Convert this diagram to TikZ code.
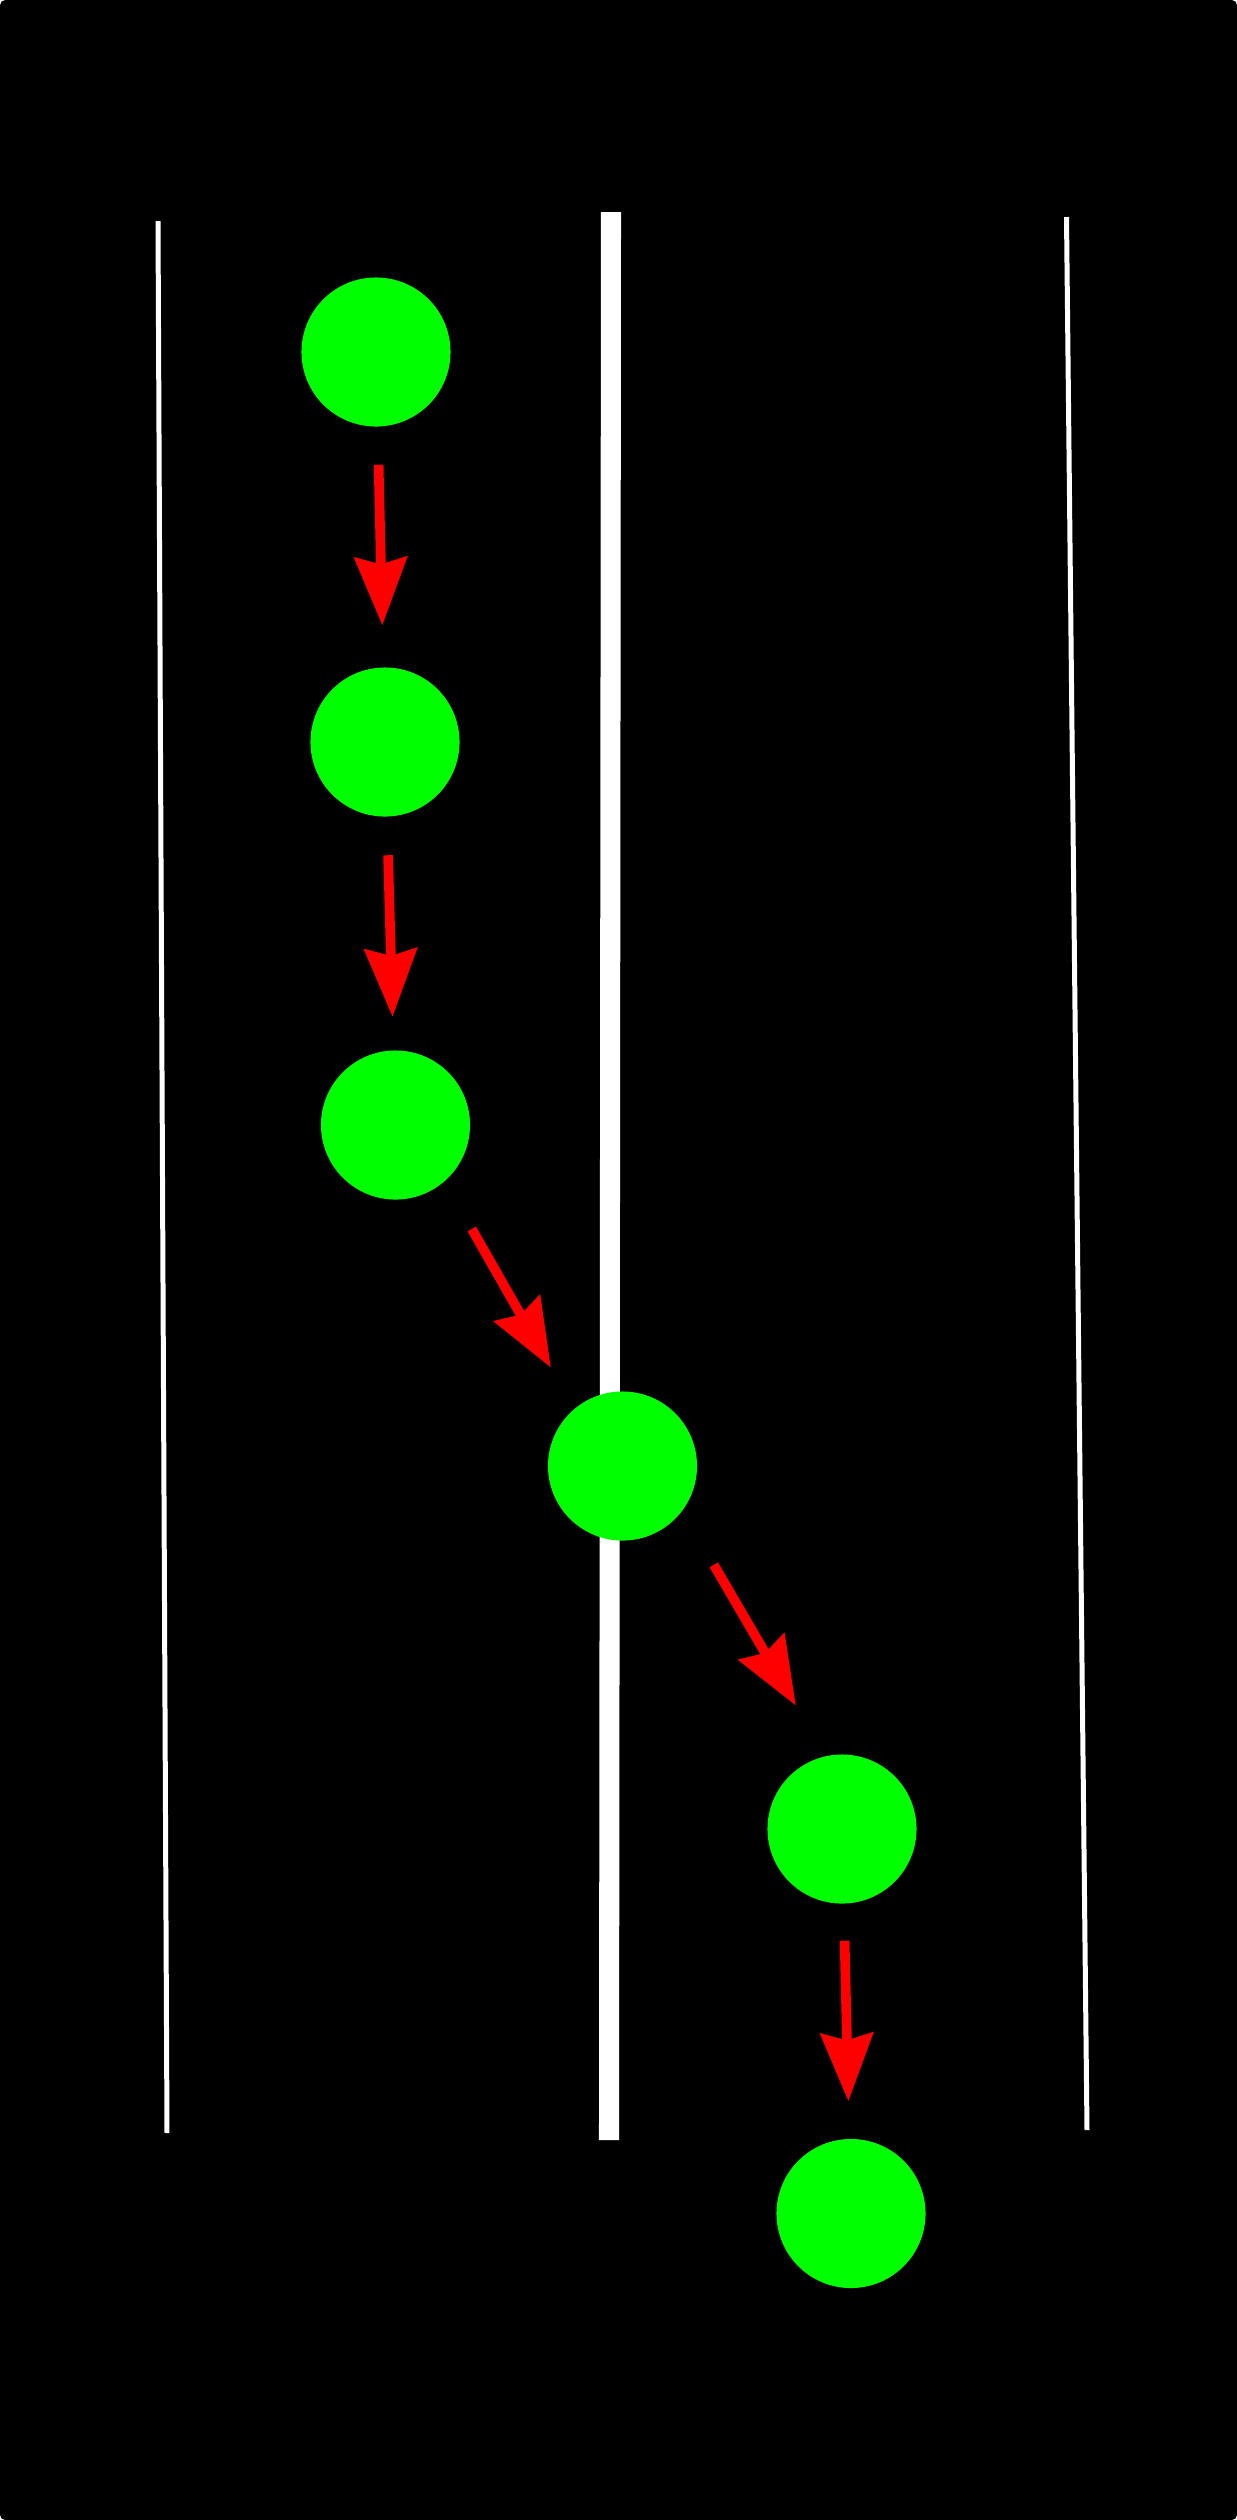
\documentclass[tikz,border=0pt]{standalone}
\usetikzlibrary{arrows.meta}
\definecolor{ballgreen}{RGB}{0,255,0}
\definecolor{flowred}{RGB}{255,0,0}
\begin{document}
\begin{tikzpicture}[x=0.01cm,y=-0.01cm,
    ball/.style={circle,fill=ballgreen,inner sep=0,minimum size=1.49cm},
    flow/.style={flowred,line width=2.75pt,-{Stealth[length=19.3pt,width=14.8pt,inset=2pt]}},
    thinrail/.style={white,line width=1.42pt},
    thickrail/.style={white,line width=5.7pt}]
    % background card
    \fill[white] (0,0) rectangle (1237,2520);
    \fill[black,rounded corners=1.5pt] (0,0) rectangle (1237,2520);
    % rails
    \draw[thinrail] (158,221) -- (167,2133);
    \draw[thickrail] (611,212) -- (609,2140);
    \draw[thinrail] (1066.5,217) -- (1087,2130);
    % balls
    \node[ball] (c1) at (376,352) {};
    \node[ball] (c2) at (385,742) {};
    \node[ball] (c3) at (395.5,1125) {};
    \node[ball] (c4) at (622.5,1466) {};
    \node[ball] (c5) at (842,1829) {};
    \node[ball] (c6) at (851,2213.5) {};
    % moves
    \foreach \a/\b/\s/\e in {c1/c2/0.375/0.415,c2/c3/0.38/0.33,
        c3.-49.6/c4.130.8/0.543/0.47,c4.-37.5/c5.103/0.62/0.58,c5/c6/0.365/0.37}
      \draw[flow,shorten <=\s cm,shorten >=\e cm] (\a) -- (\b);
  \end{tikzpicture}
\end{document}
